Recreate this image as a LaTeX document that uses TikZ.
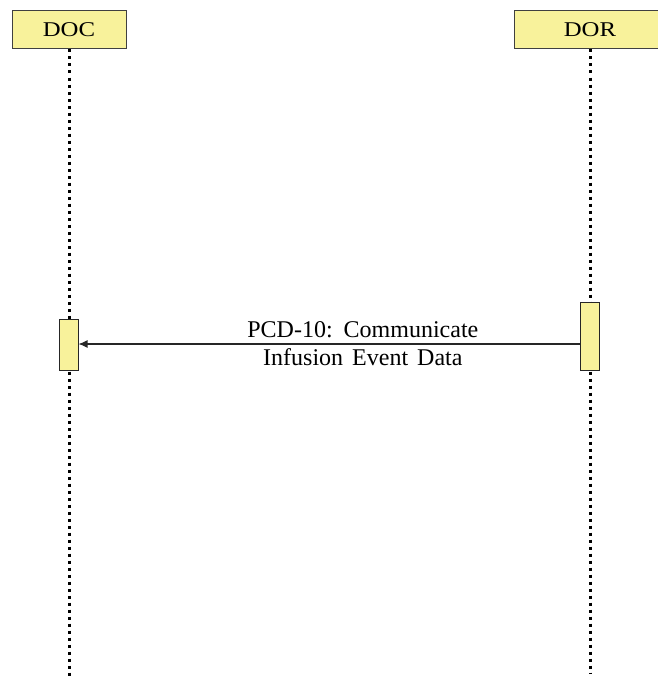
\documentclass[tikz,border=0pt]{standalone}
\usepackage{fontspec}
\setmainfont{Liberation Serif}
\newfontfamily\actorfamily[FakeStretch=1.18]{Liberation Serif}
\usepackage{tikz}
\usetikzlibrary{arrows.meta}
\definecolor{boxyellow}{RGB}{248,242,155}
\newcommand{\msgfont}{\fontsize{24}{27}\selectfont\spaceskip=9pt plus 1pt\relax}
\tikzstyle{actor}=[draw=black!75, fill=boxyellow, line width=1pt, minimum height=38pt, inner sep=0pt, font=\actorfamily\fontsize{21}{24}\selectfont]
\tikzstyle{activation}=[draw=black!85, fill=boxyellow, line width=1pt, minimum width=19pt, inner sep=0pt]
\tikzstyle{lifeline}=[line width=3pt, dash pattern=on 3pt off 4pt]
\tikzstyle{message}=[draw=black!85, line width=1.2pt, -{Latex[length=9pt, width=8pt]}]
\tikzstyle{msgtext}=[font=\msgfont]

\begin{document}
\begin{tikzpicture}[x=1pt, y=-1pt]
        \useasboundingbox (0, 0) rectangle (657, 677);
        \node[actor, minimum width=114pt] (DOC) at (69, 30) {DOC};
        \node[actor, minimum width=152pt] (DOR) at (590, 30) {DOR};
        \coordinate (DOCend) at (69, 677);
        \coordinate (DORend) at (590, 674);
        \draw[lifeline] (DOC.south) -- (DOCend);
        \draw[lifeline] (DOR.south) -- (DORend);
        \node[activation, minimum height=51pt] (actDOC) at (68.5, 344.5) {};
        \node[activation, minimum height=68pt] (actDOR) at (590, 336) {};
        \draw[message] (actDOR.west |- 0, 344) -- (actDOC.east |- 0, 344)
            node[pos=0.433, above, msgtext, inner sep=6pt] (msgA) {PCD-10: Communicate}
            node[pos=0.433, below, msgtext, inner sep=3.5pt] (msgB) {Infusion Event Data};
\end{tikzpicture}
\end{document}
